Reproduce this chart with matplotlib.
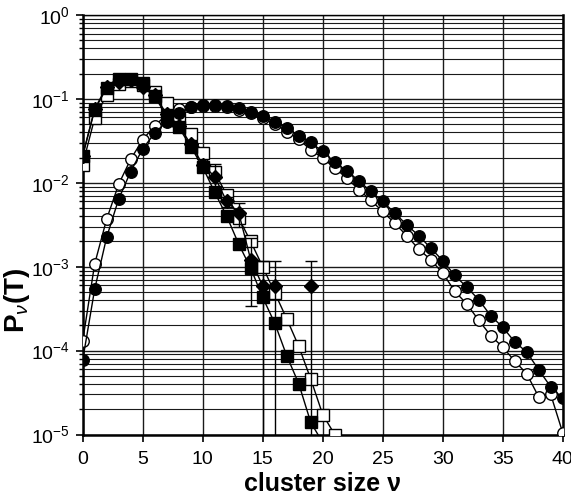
import matplotlib

matplotlib.use("Agg")

import matplotlib.pyplot as plt
import numpy as np
from matplotlib.ticker import LogLocator, MultipleLocator, NullFormatter

plt.rcParams["font.family"] = ["Liberation Sans", "DejaVu Sans"]
plt.rcParams["mathtext.fontset"] = "custom"
plt.rcParams["mathtext.rm"] = "Liberation Sans"
plt.rcParams["mathtext.it"] = "Liberation Sans:italic"
plt.rcParams["mathtext.bf"] = "Liberation Sans:bold"

# wide distributions (v = 0..40)
wide_v = np.arange(0, 41)
filled_circles = [
    7.7e-5, 5.4e-4, 2.25e-3, 6.4e-3, 0.0136, 0.0254, 0.039, 0.0537, 0.0676, 0.0796,
    0.0834, 0.0855, 0.0826, 0.0775, 0.0706, 0.0628, 0.0537, 0.0455, 0.0363, 0.0302,
    0.0236, 0.0176, 0.0139, 0.0106, 7.9e-3, 6.0e-3, 4.36e-3, 3.16e-3, 2.34e-3, 1.67e-3,
    1.18e-3, 7.9e-4, 5.7e-4, 4.05e-4, 2.6e-4, 1.9e-4, 1.27e-4, 9.6e-5, 5.9e-5, 3.7e-5,
    2.7e-5,
]
open_circles = [
    1.3e-4, 1.08e-3, 3.7e-3, 9.6e-3, 0.0191, 0.0325, 0.048, 0.0645, 0.0754, 0.080,
    0.082, 0.083, 0.080, 0.074, 0.067, 0.059, 0.050, 0.0408, 0.033, 0.0247,
    0.0197, 0.015, 0.0114, 8.3e-3, 6.2e-3, 4.55e-3, 3.3e-3, 2.34e-3, 1.62e-3, 1.21e-3,
    8.4e-4, 5.1e-4, 3.6e-4, 2.3e-4, 1.51e-4, 1.1e-4, 7.5e-5, 5.3e-5, 2.8e-5, 3.0e-5,
    1.05e-5,
]

# narrow distributions
fsq_v = np.arange(0, 21)
filled_squares = [
    0.021, 0.074, 0.135, 0.173, 0.173, 0.154, 0.107, 0.062, 0.046, 0.027,
    0.0154, 0.0077, 0.0040, 0.00186, 0.00096, 0.00043, 0.000213, 8.7e-5, 4.05e-5, 1.4e-5,
    8e-6,
]
osq_v = np.arange(0, 22)
open_squares = [
    0.0165, 0.059, 0.112, 0.151, 0.161, 0.148, 0.122, 0.090, 0.057, 0.038,
    0.0226, 0.0133, 0.0072, 0.0038, 0.0020, 0.0010, 0.00049, 0.00024, 0.000113, 4.6e-5,
    1.73e-5, 1.0e-5,
]
dia_v = np.arange(0, 20)
diamonds = [
    0.021, 0.076, 0.14, 0.16, 0.17, 0.138, 0.11, 0.066, 0.048, 0.029,
    0.0165, 0.0118, 0.0060, 0.0044, 0.00121, 0.00059, 0.00059, np.nan, np.nan, 0.00059,
]
dia_low = [
    0.020, 0.072, 0.133, 0.152, 0.162, 0.131, 0.104, 0.062, 0.045, 0.027,
    0.015, 0.008, 0.0052, 0.0030, 3.4e-4, 1e-7, 1e-7, np.nan, np.nan, 1e-7,
]
dia_high = [
    0.022, 0.080, 0.147, 0.168, 0.178, 0.145, 0.116, 0.070, 0.051, 0.031,
    0.018, 0.0168, 0.0068, 0.0058, 2.2e-3, 1.16e-3, 1.16e-3, np.nan, np.nan, 1.16e-3,
]

fig = plt.figure(figsize=(5.71, 4.98), dpi=100)
ax = fig.add_axes([0.1448, 0.1275, 0.8407, 0.8425])

style = dict(color="black", lw=1.0, markersize=8.3, markeredgecolor="black", markeredgewidth=1.0)
ax.plot(wide_v, open_circles, marker="o", markerfacecolor="white", zorder=3, **style)
ax.plot(wide_v, filled_circles, marker="o", markerfacecolor="black", zorder=4, **style)
ax.plot(osq_v, open_squares, marker="s", markerfacecolor="white", zorder=3, **style)
ax.plot(fsq_v, filled_squares, marker="s", markerfacecolor="black", zorder=4, **style)

d = np.array(diamonds)
yerr = np.vstack([d - np.array(dia_low), np.array(dia_high) - d])
ax.errorbar(dia_v, diamonds, yerr=yerr, fmt="-", marker="D", color="black", lw=1.0,
            markersize=7, markerfacecolor="black", markeredgecolor="black",
            ecolor="black", elinewidth=1.0, capsize=4, capthick=1.0, zorder=5)

ax.set_yscale("log")
ax.set_xlim(0, 40)
ax.set_ylim(1e-5, 1)
ax.xaxis.set_major_locator(MultipleLocator(5))
ax.yaxis.set_major_locator(LogLocator(base=10, numticks=10))
ax.yaxis.set_minor_locator(LogLocator(base=10, subs=np.arange(2, 10), numticks=10))
ax.yaxis.set_minor_formatter(NullFormatter())

ax.grid(True, which="major", axis="both", color="#1a1a1a", lw=1.0)
ax.grid(True, which="minor", axis="y", color="#1a1a1a", lw=0.8)
ax.set_axisbelow(True)

ax.tick_params(axis="both", which="major", direction="out", length=5, width=1.2,
               labelsize=14, pad=4)
ax.tick_params(axis="x", which="major", pad=7)
ax.tick_params(axis="y", which="minor", direction="out", length=3, width=1.0)

for side in ["left", "bottom", "right"]:
    ax.spines[side].set_linewidth(1.8)
ax.spines["top"].set_linewidth(1.0)

ax.set_xlabel("cluster size ν", fontsize=18, fontweight="bold", labelpad=3)
ax.set_ylabel(r"P$_{\nu}$(T)", fontsize=20, fontweight="bold")
ax.yaxis.set_label_coords(-0.105, 0.32)

fig.savefig("out.png", dpi=100)
